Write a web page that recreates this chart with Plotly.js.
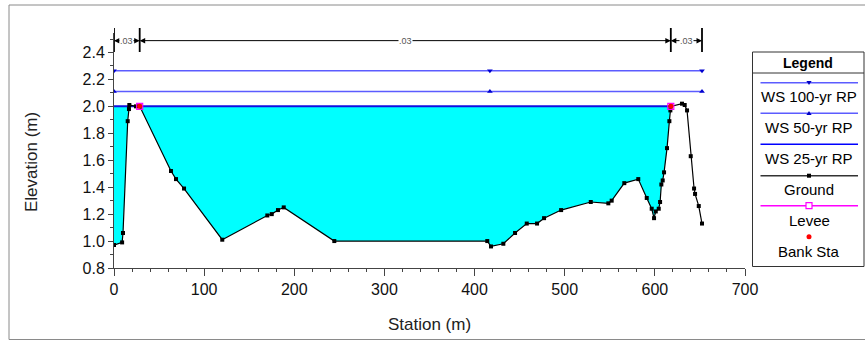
<!DOCTYPE html>
<html>
<head>
<meta charset="utf-8">
<script src="https://cdn.plot.ly/plotly-3.0.1.min.js"></script>
<style>
  html, body { margin: 0; padding: 0; background: #fff; }
  #chart { width: 865px; height: 341px; }
</style>
</head>
<body>
<div id="chart"></div>
<script>
// ---- Data ----
const groundStation = [0, 9, 10, 15.2, 16.6, 17, 24.4, 28.5, 63.2, 68.8, 77.7, 120.1, 170.1, 175, 181.9, 188.3,
  244.4, 414.1, 418.2, 431.9, 444.9, 457.9, 469.3, 477.1, 496, 528.9, 548.4, 552.1, 566.1, 581.6, 591,
  596.5, 599.1, 601, 604.3, 605.8, 607.2, 608.7, 610.2, 613.5, 616.1, 617.2, 617.7, 630.1, 633.1, 635.7,
  639.8, 643.5, 644.6, 648.7, 652.3];
const groundElev = [0.97, 0.99, 1.06, 1.89, 1.98, 2.01, 2.0, 2.0, 1.52, 1.46, 1.39, 1.01, 1.19, 1.2, 1.23, 1.25,
  1.0, 1.0, 0.96, 0.98, 1.06, 1.13, 1.13, 1.17, 1.23, 1.29, 1.28, 1.3, 1.43, 1.46, 1.32,
  1.24, 1.17, 1.22, 1.24, 1.29, 1.42, 1.45, 1.51, 1.69, 1.89, 1.97, 2.0, 2.02, 2.01, 1.97,
  1.63, 1.39, 1.35, 1.26, 1.13];

const wsStations = [0, 417, 652.3];
const ws100Elev = [2.265, 2.265, 2.265];
const ws50Elev = [2.111, 2.111, 2.111];
const ws25Stations = [0, 617.7];
const ws25Elev = [2.0, 2.0];

const bankStations = [28.5, 617.7];
const bankElev = [2.0, 2.0];
const leveeStations = [28.5, null, 617.7];
const leveeElev = [2.0, null, 2.0];

const manningBounds = [0, 28.5, 617.7, 652.3];
const manningValues = ['.03', '.03', '.03'];
const manningElev = 2.488;

const legendLabels = ['WS 100-yr RP', 'WS 50-yr RP', 'WS 25-yr RP', 'Ground', 'Levee', 'Bank Sta'];

// ---- Layout helpers (pixel -> paper) ----
const ML = 114, MR = 120, MT = 33, MB = 73, W = 865, H = 341;
const PW = W - ML - MR, PH = H - MT - MB;
const PX = p => (p - ML) / PW;
const PY = p => (H - MB - p) / PH;
const FONT = 'Liberation Sans, Arial, Helvetica, sans-serif';

const wsLight = '#5c5cff';
const wsDark = '#1010e0';

// Water fill polygon derived from ground data (clipped to the 25-yr WS)
const fillX = [], fillY = [];
for (let i = 0; i < groundStation.length; i++) {
  if (groundStation[i] <= ws25Stations[1]) {
    fillX.push(groundStation[i]);
    fillY.push(Math.min(groundElev[i], ws25Elev[0]));
  }
}
fillX.push(ws25Stations[1], ws25Stations[0]);
fillY.push(ws25Elev[1], ws25Elev[0]);

const traces = [
  { x: fillX, y: fillY, mode: 'lines', fill: 'toself', fillcolor: '#00ffff',
    line: { width: 0 }, hoverinfo: 'skip', showlegend: false },
  { x: wsStations, y: ws100Elev, mode: 'lines+markers', name: legendLabels[0],
    line: { color: wsLight, width: 1.5 }, marker: { symbol: 'triangle-down', size: 5, color: '#0000d0' } },
  { x: wsStations, y: ws50Elev, mode: 'lines+markers', name: legendLabels[1],
    line: { color: wsLight, width: 1.5 }, marker: { symbol: 'triangle-up', size: 5, color: '#0000d0' } },
  { x: ws25Stations, y: ws25Elev, mode: 'lines', name: legendLabels[2],
    line: { color: wsDark, width: 2 } },
  { x: groundStation, y: groundElev, mode: 'lines+markers', name: legendLabels[3],
    line: { color: '#000', width: 1.2 }, marker: { symbol: 'square', size: 4, color: '#000' } },
  { x: leveeStations, y: leveeElev, mode: 'markers', name: legendLabels[4],
    marker: { symbol: 'square-open', size: 6, color: '#ff00ff', line: { width: 1.2 } } },
  { x: bankStations, y: bankElev, mode: 'markers', name: legendLabels[5],
    marker: { symbol: 'circle', size: 5, color: '#ff0000' } }
];

const shapes = [];
const annotations = [];

// Outer frame
shapes.push({ type: 'rect', xref: 'paper', yref: 'paper', x0: PX(9), x1: PX(868), y0: PY(339.5), y1: PY(5),
  line: { color: '#8a8a8a', width: 1 }, layer: 'below' });

// Manning's n dimension lines
manningBounds.forEach(b => {
  shapes.push({ type: 'line', xref: 'x', yref: 'paper', x0: b, x1: b, y0: PY(52), y1: PY(28),
    line: { color: '#000', width: 1.8 } });
});
for (let i = 0; i < manningValues.length; i++) {
  const a = manningBounds[i], b = manningBounds[i + 1], m = (a + b) / 2;
  [a, b].forEach(end => {
    annotations.push({ x: end, y: manningElev, xref: 'x', yref: 'y', ax: m, ay: manningElev,
      axref: 'x', ayref: 'y', text: '', showarrow: true, arrowhead: 2, arrowsize: 1.1,
      arrowwidth: 1, arrowcolor: '#000', standoff: 0, startstandoff: 0 });
  });
}
for (let i = 0; i < manningValues.length; i++) {
  const m = (manningBounds[i] + manningBounds[i + 1]) / 2;
  annotations.push({ x: m, y: manningElev, xref: 'x', yref: 'y', text: manningValues[i], showarrow: false,
    xanchor: 'center', yanchor: 'middle',
    bgcolor: '#ffffff', font: { family: FONT, size: 9, color: '#555' }, borderpad: 0 });
}

// Custom legend box
const LGL = 752.5, LGR = 864, LGT = 52, LGB = 266.5;
shapes.push({ type: 'rect', xref: 'paper', yref: 'paper', x0: PX(LGL), x1: PX(LGR), y0: PY(LGB), y1: PY(LGT),
  line: { color: '#333', width: 1 }, fillcolor: '#fff' });
shapes.push({ type: 'line', xref: 'paper', yref: 'paper', x0: PX(LGL), x1: PX(LGR), y0: PY(73), y1: PY(73),
  line: { color: '#333', width: 1 } });
annotations.push({ xref: 'paper', yref: 'paper', x: PX(808), y: PY(62.5), text: '<b>Legend</b>', showarrow: false,
  xanchor: 'center', yanchor: 'middle', font: { family: FONT, size: 14, color: '#000' } });

const lineY = [82.7, 113.3, 144.3, 175.7, 205.7, 236.7];
const textY = [97, 127.5, 158, 189, 220, 251];
const lineCol = [wsLight, wsLight, '#0000ff', '#333', '#ff00ff', null];
const LX0 = 760.5, LX1 = 858, LCX = 809;
for (let i = 0; i < legendLabels.length; i++) {
  if (lineCol[i]) {
    shapes.push({ type: 'line', xref: 'paper', yref: 'paper', x0: PX(LX0), x1: PX(LX1), y0: PY(lineY[i]), y1: PY(lineY[i]),
      line: { color: lineCol[i], width: 1.5 } });
  }
  annotations.push({ xref: 'paper', yref: 'paper', x: PX(LCX), y: PY(textY[i]), text: legendLabels[i], showarrow: false,
    xanchor: 'center', yanchor: 'middle', font: { family: FONT, size: 15, color: '#000' } });
}
const tri = (cx, cy, s, down) => {
  const d = down ? 1 : -1;
  return `M ${PX(cx - s)} ${PY(cy - d * s * 0.7)} L ${PX(cx + s)} ${PY(cy - d * s * 0.7)} L ${PX(cx)} ${PY(cy + d * s * 0.9)} Z`;
};
shapes.push({ type: 'path', xref: 'paper', yref: 'paper', path: tri(LCX, lineY[0], 2.6, true),
  fillcolor: '#0000c0', line: { width: 0 } });
shapes.push({ type: 'path', xref: 'paper', yref: 'paper', path: tri(LCX, lineY[1], 2.6, false),
  fillcolor: '#0000c0', line: { width: 0 } });
shapes.push({ type: 'rect', xref: 'paper', yref: 'paper', x0: PX(LCX - 2), x1: PX(LCX + 2), y0: PY(lineY[3] + 2), y1: PY(lineY[3] - 2),
  fillcolor: '#000', line: { width: 0 } });
shapes.push({ type: 'rect', xref: 'paper', yref: 'paper', x0: PX(LCX - 3), x1: PX(LCX + 3), y0: PY(lineY[4] + 3), y1: PY(lineY[4] - 3),
  fillcolor: '#fff', line: { color: '#ff00ff', width: 1.2 } });
shapes.push({ type: 'circle', xref: 'paper', yref: 'paper', x0: PX(LCX - 2.5), x1: PX(LCX + 2.5), y0: PY(lineY[5] + 2.5), y1: PY(lineY[5] - 2.5),
  fillcolor: '#ff0000', line: { width: 0 } });

// Y-axis title
annotations.push({ xref: 'paper', yref: 'paper', x: PX(31), y: PY(162), text: 'Elevation (m)', textangle: -90,
  xanchor: 'center', yanchor: 'middle',
  showarrow: false, font: { family: FONT, size: 17, color: '#222' } });

const layout = {
  width: W, height: H,
  margin: { l: ML, r: MR, t: MT, b: MB, pad: 0 },
  paper_bgcolor: '#fff', plot_bgcolor: '#fff',
  showlegend: false,
  font: { family: FONT, size: 16, color: '#111' },
  xaxis: {
    range: [0, 700], dtick: 100, tick0: 0, showgrid: false, zeroline: false,
    showline: true, linecolor: '#444', linewidth: 1,
    ticks: 'outside', ticklen: 7, tickcolor: '#444', tickwidth: 1,
    minor: { dtick: 20, ticks: 'outside', ticklen: 3, tickcolor: '#444', showgrid: false },
    tickfont: { family: FONT, size: 16, color: '#111' },
    title: { text: 'Station (m)', font: { family: FONT, size: 17, color: '#222' }, standoff: 20 },
    automargin: false
  },
  yaxis: {
    range: [0.8, 0.8 + PH / 134.7], dtick: 0.2, tick0: 0.8, tickformat: '.1f', showgrid: false, zeroline: false,
    showline: true, linecolor: '#444', linewidth: 1,
    ticks: 'outside', ticklen: 5, tickcolor: '#444', tickwidth: 1,
    minor: { dtick: 0.1, ticks: 'outside', ticklen: 3, tickcolor: '#444', showgrid: false },
    tickfont: { family: FONT, size: 16, color: '#111' },
    automargin: false
  },
  shapes: shapes,
  annotations: annotations
};

Plotly.newPlot('chart', traces, layout, { displayModeBar: false, staticPlot: true });
</script>
</body>
</html>
